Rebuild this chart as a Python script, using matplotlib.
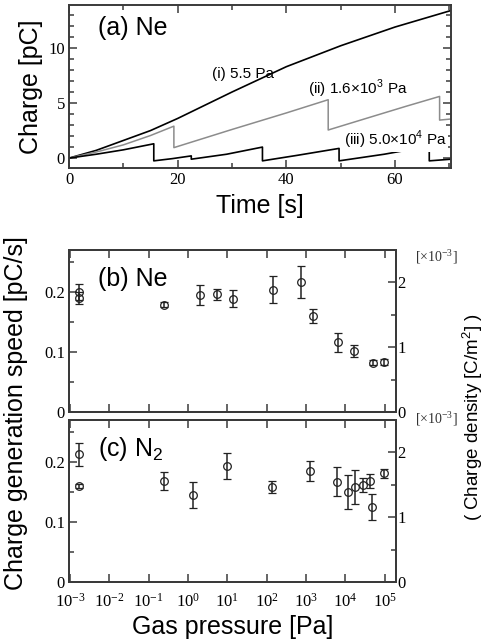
import numpy as np
import matplotlib
matplotlib.use("Agg")
import matplotlib.pyplot as plt
from matplotlib.ticker import MultipleLocator, FixedLocator, NullLocator, LogFormatterSciNotation

# --- data ---

# (a) charge vs time in Ne
t_i = [0, 5, 10, 15, 20, 30, 40, 50, 60, 70.3]
q_i = [0, 0.7, 1.6, 2.5, 3.6, 6.0, 8.3, 10.2, 11.9, 13.4]

t_ii = [0, 5, 10, 15, 19.3, 19.3, 30, 40, 47.7, 47.7, 55, 62, 68.2, 68.2, 70.3]
q_ii = [0, 0.55, 1.2, 2.05, 2.9, 0.95, 2.6, 4.1, 5.3, 2.55, 3.65, 4.7, 5.6, 3.45, 3.55]

t_iii = [0, 5, 10, 15.6, 15.6, 19, 22.5, 22.5, 29, 35.6, 35.6, 42, 49.7, 49.7, 58, 66.3, 66.3, 70.3]
q_iii = [0, 0.35, 0.75, 1.3, -0.25, -0.05, 0.2, -0.1, 0.35, 1.0, -0.25, 0.25, 0.88, -0.25, 0.35, 1.08, -0.25, -0.1]

# (b) Ne: charge generation speed vs pressure
p_ne = [1.7e-3, 1.7e-3, 0.24, 2.0, 5.5, 14, 146, 770, 1.5e3, 6.5e3, 1.7e4, 5.0e4, 9.5e4]
v_ne = [0.200, 0.190, 0.179, 0.195, 0.196, 0.189, 0.204, 0.217, 0.160, 0.116, 0.102, 0.082, 0.083]
e_ne = [0.013, 0.010, 0.004, 0.017, 0.009, 0.014, 0.023, 0.027, 0.012, 0.016, 0.010, 0.004, 0.005]

# (c) N2
p_n2 = [1.75e-3, 1.75e-3, 0.25, 1.35, 10, 138, 1.3e3, 6e3, 1.2e4, 1.8e4, 2.9e4, 4.2e4, 4.8e4, 9.5e4]
v_n2 = [0.213, 0.160, 0.168, 0.145, 0.193, 0.158, 0.185, 0.167, 0.150, 0.158, 0.162, 0.168, 0.125, 0.181]
e_n2 = [0.019, 0.003, 0.015, 0.022, 0.022, 0.010, 0.016, 0.024, 0.028, 0.028, 0.012, 0.012, 0.022, 0.008]

SANS = "Liberation Sans"
SERIF = "Liberation Serif"
SPINE = "#3a3a3a"

plt.rcParams["font.family"] = SANS
plt.rcParams["mathtext.fontset"] = "custom"
plt.rcParams["mathtext.rm"] = SANS
plt.rcParams["axes.unicode_minus"] = False


def style_axes(ax):
    for s in ax.spines.values():
        s.set_color(SPINE)
        s.set_linewidth(1.4)
    ax.tick_params(which="both", direction="in", color=SPINE, width=1.1,
                   labelsize=12, pad=3)
    ax.tick_params(which="major", length=6)
    ax.tick_params(which="minor", length=3.5)
    for lab in ax.get_xticklabels() + ax.get_yticklabels():
        lab.set_fontfamily(SERIF)


fig = plt.figure(figsize=(4.85, 6.41), dpi=100)

# ---------------- (a) ----------------
ax_a = fig.add_axes([0.1423, 0.7379, 0.7876, 0.2543])
ax_a.plot(t_i, q_i, color="black", lw=1.2)
ax_a.plot(t_ii, q_ii, color="#8c8c8c", lw=1.1)
ax_a.plot(t_iii, q_iii, color="black", lw=1.2)
ax_a.set_xlim(0, 70.3)
ax_a.set_ylim(-0.9, 13.9)
ax_a.xaxis.set_major_locator(MultipleLocator(20))
ax_a.xaxis.set_minor_locator(MultipleLocator(10))
ax_a.yaxis.set_major_locator(MultipleLocator(5))
ax_a.yaxis.set_minor_locator(MultipleLocator(1))
ax_a.tick_params(which="both", top=True, right=True)
style_axes(ax_a)
ax_a.set_xlabel("Time [s]", fontsize=18, labelpad=4)
ax_a.set_ylabel("Charge [pC]", fontsize=18, labelpad=4)
ax_a.text(0.075, 0.86, "(a) Ne", transform=ax_a.transAxes, fontsize=18,
          va="center", ha="left")
ax_a.text(0.375, 0.575, "(i) 5.5 Pa", transform=ax_a.transAxes, fontsize=11,
          va="center", ha="left")
ax_a.text(0.625, 0.485, r"(ii) 1.6$\times$10$^{3}$ Pa", transform=ax_a.transAxes,
          fontsize=11, va="center", ha="left")
ax_a.text(0.72, 0.17, r"(iii) 5.0$\times$10$^{4}$ Pa", transform=ax_a.transAxes,
          fontsize=11, va="center", ha="left",
          bbox=dict(facecolor="white", edgecolor="none", pad=0.5))


def pressure_panel(rect, p, v, e, label, show_xlabels, xlab_y):
    ax = fig.add_axes(rect)
    ax.errorbar(p, v, yerr=e, fmt="o", ms=5.5, mfc="none", mec="#222222",
                mew=0.9, ecolor="#222222", elinewidth=1.1, capsize=3,
                capthick=1.1)
    ax.set_xscale("log")
    ax.set_xlim(9.5e-4, 1.95e5)
    ax.set_ylim(0, 0.27)
    ax.xaxis.set_major_locator(FixedLocator([10.0 ** k for k in range(-3, 6)]))
    ax.xaxis.set_minor_locator(NullLocator())
    ax.xaxis.set_major_formatter(LogFormatterSciNotation())
    ax.yaxis.set_major_locator(FixedLocator([0, 0.1, 0.2]))
    ax.yaxis.set_minor_locator(MultipleLocator(0.05))
    ax.set_yticklabels(["0", "0.1", "0.2"])
    ax.tick_params(which="both", top=True, right=False,
                   labelbottom=show_xlabels)
    style_axes(ax)
    ax.tick_params(axis="x", pad=8)

    axr = ax.twinx()
    axr.set_ylim(0, 2.5)
    axr.yaxis.set_major_locator(FixedLocator([0, 1, 2]))
    axr.yaxis.set_minor_locator(MultipleLocator(0.5))
    axr.set_yticklabels(["0", "1", "2"])
    style_axes(axr)
    axr.tick_params(axis="y", pad=1)
    for lab in axr.get_yticklabels():
        lab.set_fontfamily(SERIF)

    ax.text(0.09, 0.82, label, transform=ax.transAxes, fontsize=18,
            va="center", ha="left")
    ax.text(1.057, xlab_y, r"[×10$^{\mathdefault{-3}}$]", transform=ax.transAxes,
            fontsize=10, fontfamily=SERIF, va="center", ha="left",
            color="#333333")
    return ax


ax_b = pressure_panel([0.1423, 0.3573, 0.6742, 0.2527], p_ne, v_ne, e_ne,
                      "(b) Ne", False, 0.957)
ax_c = pressure_panel([0.1423, 0.0920, 0.6742, 0.2527], p_n2, v_n2, e_n2,
                      r"(c) N$_2$", True, 1.01)
for lab in ax_c.get_xticklabels():
    lab.set_fontfamily(SERIF)
ax_c.set_xlabel("Gas pressure [Pa]", fontsize=18, labelpad=3)

fig.text(0.034, 0.355, "Charge generation speed [pC/s]", rotation=90,
         fontsize=18, va="center", ha="center")
fig.text(0.974, 0.35, r"( Charge density [C/m$^2$] )", rotation=90,
         fontsize=13.5, va="center", ha="center")

fig.savefig("out.png", dpi=100)
